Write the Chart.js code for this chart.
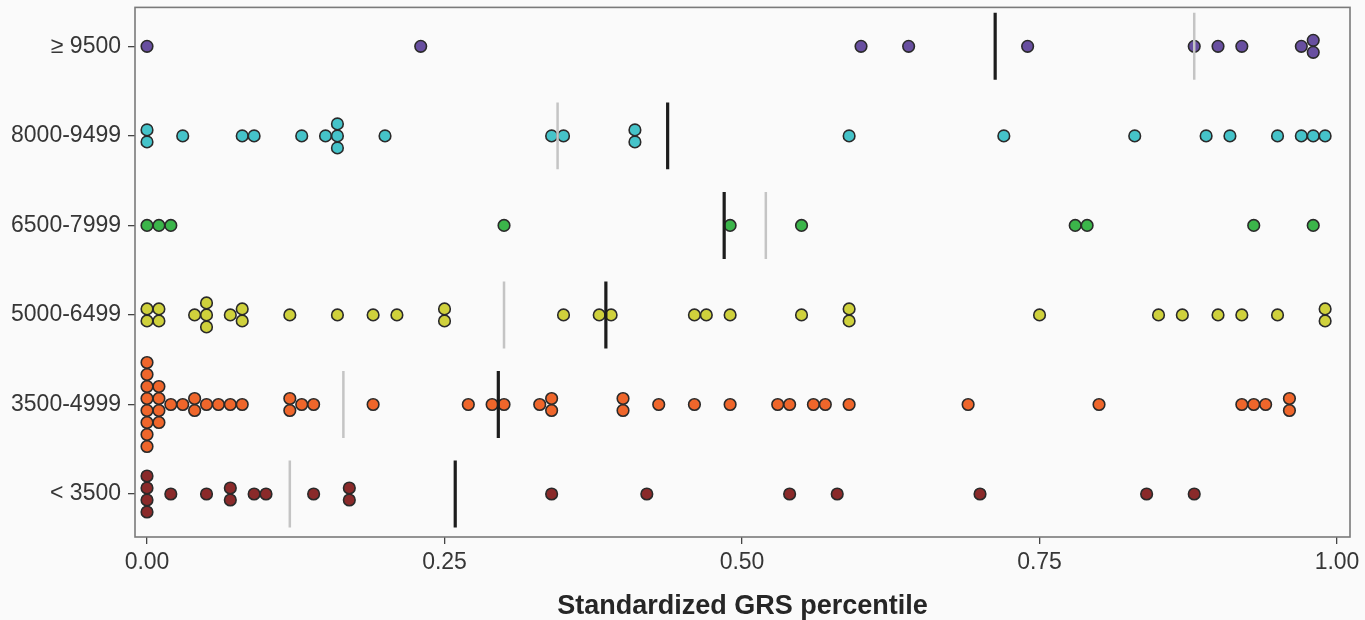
<!DOCTYPE html>
<html>
<head>
<meta charset="utf-8">
<script src="https://cdn.jsdelivr.net/npm/chart.js@4/dist/chart.umd.min.js"></script>
<style>
  html, body { margin: 0; padding: 0; background: #fafafa; }
  #wrap { width: 1365px; height: 620px; }
</style>
</head>
<body>
<div id="wrap"><canvas id="grsChart" width="1365" height="620"></canvas></div>
<script>
// income groups, bottom to top
const categories = ['< 3500', '3500-4999', '5000-6499', '6500-7999', '8000-9499', '≥ 9500'];
const colors = ['#8a2a2a', '#ef662b', '#cfd13c', '#3bb54a', '#45c3c9', '#684fa0'];
const xTicks = [0, 0.25, 0.5, 0.75, 1];

// standardized GRS percentile per subject
const below3500 = [0, 0, 0, 0, 0.02, 0.05, 0.07, 0.07, 0.09, 0.10, 0.14, 0.17, 0.17,
  0.34, 0.42, 0.54, 0.58, 0.70, 0.84, 0.88];
const from3500 = [0, 0, 0, 0, 0, 0, 0, 0, 0.01, 0.01, 0.01, 0.01, 0.02, 0.03, 0.04, 0.04,
  0.05, 0.06, 0.07, 0.08, 0.12, 0.12, 0.13, 0.14, 0.19, 0.27, 0.29, 0.30, 0.33, 0.34, 0.34,
  0.40, 0.40, 0.43, 0.46, 0.49, 0.53, 0.54, 0.56, 0.57, 0.59, 0.69, 0.80, 0.92, 0.93, 0.94,
  0.96, 0.96];
const from5000 = [0, 0, 0.01, 0.01, 0.04, 0.05, 0.05, 0.05, 0.07, 0.08, 0.08, 0.12, 0.16,
  0.19, 0.21, 0.25, 0.25, 0.35, 0.38, 0.39, 0.46, 0.47, 0.49, 0.55, 0.59, 0.59, 0.75, 0.85,
  0.87, 0.90, 0.92, 0.95, 0.99, 0.99];
const from6500 = [0, 0.01, 0.02, 0.30, 0.49, 0.55, 0.78, 0.79, 0.93, 0.98];
const from8000 = [0, 0, 0.03, 0.08, 0.09, 0.13, 0.15, 0.16, 0.16, 0.16, 0.20, 0.34, 0.35,
  0.41, 0.41, 0.59, 0.72, 0.83, 0.89, 0.91, 0.95, 0.97, 0.98, 0.99];
const above9500 = [0, 0.23, 0.60, 0.64, 0.74, 0.88, 0.90, 0.92, 0.97, 0.98, 0.98];

const groups = [below3500, from3500, from5000, from6500, from8000, above9500];

const STACK = 0.134;   // vertical step between tied dots (category units)
const HALF = 0.374;    // half length of mean / median marks

function mean(a) { return a.reduce((s, v) => s + v, 0) / a.length; }
function median(a) {
  const s = [...a].sort((p, q) => p - q);
  const m = Math.floor(s.length / 2);
  return s.length % 2 ? s[m] : (s[m - 1] + s[m]) / 2;
}

const datasets = [];

groups.forEach((vals, i) => {
  const counts = {};
  vals.forEach(v => counts[v] = (counts[v] || 0) + 1);
  const seen = {};
  const pts = vals.map(v => {
    const k = seen[v] || 0;
    seen[v] = k + 1;
    return { x: v, y: (i + 1) + (k - (counts[v] - 1) / 2) * STACK };
  });
  datasets.push({
    data: pts,
    backgroundColor: colors[i],
    borderColor: '#2a2a2a',
    borderWidth: 1.6,
    pointRadius: 5.8,
    order: 2
  });
});

groups.forEach((vals, i) => {
  const md = median(vals);
  const mn = mean(vals);
  datasets.push({
    data: [{ x: md, y: i + 1 - HALF }, { x: md, y: i + 1 + HALF }],
    showLine: true, pointRadius: 0, borderColor: '#c4c4c4', borderWidth: 2.5, order: 1
  });
  datasets.push({
    data: [{ x: mn, y: i + 1 - HALF }, { x: mn, y: i + 1 + HALF }],
    showLine: true, pointRadius: 0, borderColor: '#1c1c1c', borderWidth: 3.2, order: 0
  });
});

const panel = {
  id: 'panel',
  beforeDraw(chart) {
    const c = chart.ctx;
    c.save();
    c.fillStyle = '#fafafa';
    c.fillRect(0, 0, chart.width, chart.height);
    c.restore();
  },
  afterDatasetsDraw(chart) {
    const c = chart.ctx, a = chart.chartArea;
    c.save();
    c.strokeStyle = '#7a7a7a';
    c.lineWidth = 1.6;
    c.strokeRect(a.left, a.top, a.right - a.left, a.bottom - a.top);
    c.restore();
  }
};

const font = 'Liberation Sans, Arial, Helvetica, sans-serif';

new Chart(document.getElementById('grsChart').getContext('2d'), {
  type: 'scatter',
  data: { datasets: datasets },
  plugins: [panel],
  options: {
    responsive: false,
    devicePixelRatio: 1,
    animation: false,
    events: [],
    layout: { padding: { top: 7, right: 15, left: 0, bottom: 0 } },
    plugins: { legend: { display: false }, tooltip: { enabled: false } },
    scales: {
      x: {
        type: 'linear',
        min: -0.0101,
        max: 1.0109,
        afterBuildTicks: s => { s.ticks = xTicks.map(v => ({ value: v })); },
        afterFit: s => { s.height = 83; s.paddingLeft = 0; s.paddingRight = 0; },
        border: { display: false },
        grid: { drawOnChartArea: false, drawTicks: true, tickLength: 7, color: '#444', lineWidth: 1.3 },
        ticks: {
          padding: 5,
          color: '#363636',
          font: { family: font, size: 23 },
          callback: v => v.toFixed(2)
        },
        title: {
          display: true,
          text: 'Standardized GRS percentile',
          color: '#262626',
          font: { family: font, size: 27, weight: 'bold', lineHeight: 1 },
          padding: { top: 0, bottom: 0 }
        }
      },
      y: {
        type: 'linear',
        min: 0.52,
        max: 6.435,
        afterBuildTicks: s => { s.ticks = categories.map((c, i) => ({ value: i + 1 })); },
        afterFit: s => { s.width = 135; s.paddingTop = 0; s.paddingBottom = 0; },
        border: { display: false },
        grid: { drawOnChartArea: false, drawTicks: true, tickLength: 7, color: '#444', lineWidth: 1.3 },
        ticks: {
          padding: 7,
          color: '#363636',
          font: { family: font, size: 23 },
          callback: v => categories[v - 1]
        }
      }
    }
  }
});
</script>
</body>
</html>
